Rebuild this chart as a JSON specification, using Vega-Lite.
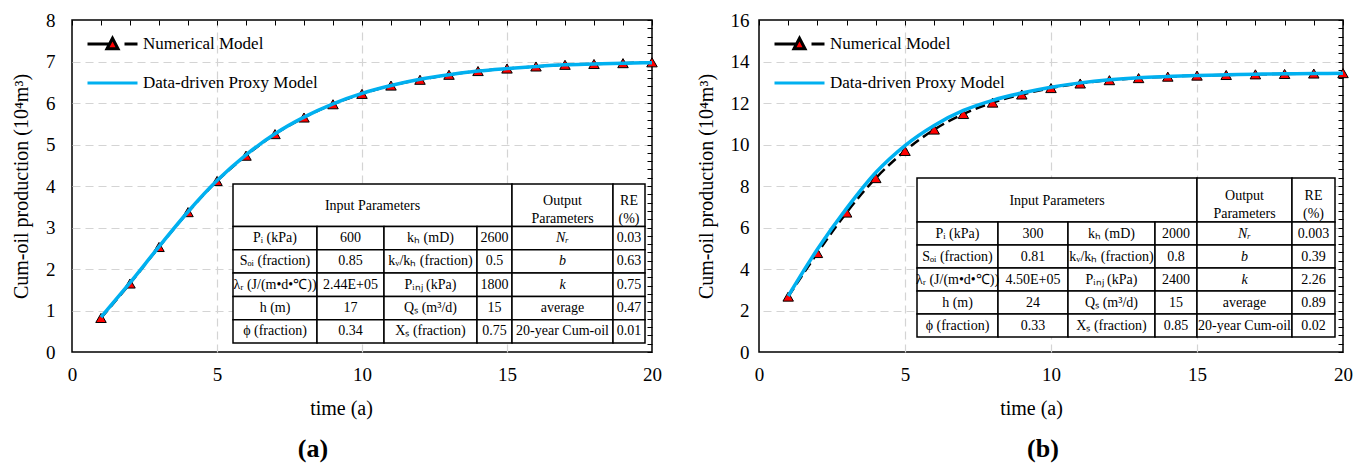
{
  "$schema": "https://vega.github.io/schema/vega-lite/v6.json",
  "background": "white",
  "padding": {"left": 10, "top": 10, "right": 4, "bottom": 2},
  "config": {
    "font": "Liberation Serif",
    "view": {"stroke": "black", "strokeWidth": 1.5},
    "axis": {"labelFont": "Liberation Serif", "labelFontSize": 19, "labelColor": "black", "titleFont": "Liberation Serif", "titleFontSize": 20, "titleFontWeight": "normal", "titleColor": "black"},
    "legend": {"labelFont": "Liberation Serif", "titleFont": "Liberation Serif"},
    "title": {"font": "Liberation Serif"},
    "text": {"font": "Liberation Serif"}
  },
  "datasets": {
    "curves": [
      {"panel": "a", "t": 1, "numerical": 0.82, "proxy": 0.84},
      {"panel": "a", "t": 2, "numerical": 1.65, "proxy": 1.67},
      {"panel": "a", "t": 3, "numerical": 2.53, "proxy": 2.54},
      {"panel": "a", "t": 4, "numerical": 3.37, "proxy": 3.38},
      {"panel": "a", "t": 5, "numerical": 4.12, "proxy": 4.13},
      {"panel": "a", "t": 6, "numerical": 4.73, "proxy": 4.75},
      {"panel": "a", "t": 7, "numerical": 5.25, "proxy": 5.26},
      {"panel": "a", "t": 8, "numerical": 5.65, "proxy": 5.66},
      {"panel": "a", "t": 9, "numerical": 5.97, "proxy": 5.98},
      {"panel": "a", "t": 10, "numerical": 6.22, "proxy": 6.23},
      {"panel": "a", "t": 11, "numerical": 6.42, "proxy": 6.42},
      {"panel": "a", "t": 12, "numerical": 6.56, "proxy": 6.57},
      {"panel": "a", "t": 13, "numerical": 6.68, "proxy": 6.68},
      {"panel": "a", "t": 14, "numerical": 6.77, "proxy": 6.77},
      {"panel": "a", "t": 15, "numerical": 6.83, "proxy": 6.83},
      {"panel": "a", "t": 16, "numerical": 6.88, "proxy": 6.88},
      {"panel": "a", "t": 17, "numerical": 6.92, "proxy": 6.92},
      {"panel": "a", "t": 18, "numerical": 6.94, "proxy": 6.94},
      {"panel": "a", "t": 19, "numerical": 6.96, "proxy": 6.96},
      {"panel": "a", "t": 20, "numerical": 6.98, "proxy": 6.97},
      {"panel": "b", "t": 1, "numerical": 2.67, "proxy": 2.7},
      {"panel": "b", "t": 2, "numerical": 4.77, "proxy": 4.95},
      {"panel": "b", "t": 3, "numerical": 6.72, "proxy": 6.92},
      {"panel": "b", "t": 4, "numerical": 8.38, "proxy": 8.65},
      {"panel": "b", "t": 5, "numerical": 9.69, "proxy": 9.95},
      {"panel": "b", "t": 6, "numerical": 10.72, "proxy": 10.92},
      {"panel": "b", "t": 7, "numerical": 11.47, "proxy": 11.64},
      {"panel": "b", "t": 8, "numerical": 12.02, "proxy": 12.13},
      {"panel": "b", "t": 9, "numerical": 12.41, "proxy": 12.48},
      {"panel": "b", "t": 10, "numerical": 12.72, "proxy": 12.76},
      {"panel": "b", "t": 11, "numerical": 12.94, "proxy": 12.97},
      {"panel": "b", "t": 12, "numerical": 13.1, "proxy": 13.12},
      {"panel": "b", "t": 13, "numerical": 13.2, "proxy": 13.22},
      {"panel": "b", "t": 14, "numerical": 13.27, "proxy": 13.28},
      {"panel": "b", "t": 15, "numerical": 13.32, "proxy": 13.33},
      {"panel": "b", "t": 16, "numerical": 13.35, "proxy": 13.36},
      {"panel": "b", "t": 17, "numerical": 13.38, "proxy": 13.39},
      {"panel": "b", "t": 18, "numerical": 13.4, "proxy": 13.41},
      {"panel": "b", "t": 19, "numerical": 13.42, "proxy": 13.42},
      {"panel": "b", "t": 20, "numerical": 13.44, "proxy": 13.43}
    ],
    "table": [
      {"panel": "a", "r0": 0, "r1": 1, "c0": 0, "c1": 4, "text": "Input Parameters"},
      {"panel": "a", "r0": 0, "r1": 1, "c0": 4, "c1": 5, "text": "Output\nParameters"},
      {"panel": "a", "r0": 0, "r1": 1, "c0": 5, "c1": 6, "text": "RE\n(%)"},
      {"panel": "a", "r0": 1, "r1": 2, "c0": 0, "c1": 1, "text": "Pᵢ (kPa)"},
      {"panel": "a", "r0": 1, "r1": 2, "c0": 1, "c1": 2, "text": "600"},
      {"panel": "a", "r0": 1, "r1": 2, "c0": 2, "c1": 3, "text": "kₕ (mD)"},
      {"panel": "a", "r0": 1, "r1": 2, "c0": 3, "c1": 4, "text": "2600"},
      {"panel": "a", "r0": 1, "r1": 2, "c0": 4, "c1": 5, "text": "Nᵣ"},
      {"panel": "a", "r0": 1, "r1": 2, "c0": 5, "c1": 6, "text": "0.03"},
      {"panel": "a", "r0": 2, "r1": 3, "c0": 0, "c1": 1, "text": "Sₒᵢ (fraction)"},
      {"panel": "a", "r0": 2, "r1": 3, "c0": 1, "c1": 2, "text": "0.85"},
      {"panel": "a", "r0": 2, "r1": 3, "c0": 2, "c1": 3, "text": "kᵥ/kₕ (fraction)"},
      {"panel": "a", "r0": 2, "r1": 3, "c0": 3, "c1": 4, "text": "0.5"},
      {"panel": "a", "r0": 2, "r1": 3, "c0": 4, "c1": 5, "text": "b"},
      {"panel": "a", "r0": 2, "r1": 3, "c0": 5, "c1": 6, "text": "0.63"},
      {"panel": "a", "r0": 3, "r1": 4, "c0": 0, "c1": 1, "text": "λᵣ (J/(m•d•℃))"},
      {"panel": "a", "r0": 3, "r1": 4, "c0": 1, "c1": 2, "text": "2.44E+05"},
      {"panel": "a", "r0": 3, "r1": 4, "c0": 2, "c1": 3, "text": "Pᵢₙⱼ (kPa)"},
      {"panel": "a", "r0": 3, "r1": 4, "c0": 3, "c1": 4, "text": "1800"},
      {"panel": "a", "r0": 3, "r1": 4, "c0": 4, "c1": 5, "text": "k"},
      {"panel": "a", "r0": 3, "r1": 4, "c0": 5, "c1": 6, "text": "0.75"},
      {"panel": "a", "r0": 4, "r1": 5, "c0": 0, "c1": 1, "text": "h (m)"},
      {"panel": "a", "r0": 4, "r1": 5, "c0": 1, "c1": 2, "text": "17"},
      {"panel": "a", "r0": 4, "r1": 5, "c0": 2, "c1": 3, "text": "Qₛ (m³/d)"},
      {"panel": "a", "r0": 4, "r1": 5, "c0": 3, "c1": 4, "text": "15"},
      {"panel": "a", "r0": 4, "r1": 5, "c0": 4, "c1": 5, "text": "average"},
      {"panel": "a", "r0": 4, "r1": 5, "c0": 5, "c1": 6, "text": "0.47"},
      {"panel": "a", "r0": 5, "r1": 6, "c0": 0, "c1": 1, "text": "ϕ (fraction)"},
      {"panel": "a", "r0": 5, "r1": 6, "c0": 1, "c1": 2, "text": "0.34"},
      {"panel": "a", "r0": 5, "r1": 6, "c0": 2, "c1": 3, "text": "Xₛ (fraction)"},
      {"panel": "a", "r0": 5, "r1": 6, "c0": 3, "c1": 4, "text": "0.75"},
      {"panel": "a", "r0": 5, "r1": 6, "c0": 4, "c1": 5, "text": "20-year Cum-oil"},
      {"panel": "a", "r0": 5, "r1": 6, "c0": 5, "c1": 6, "text": "0.01"},
      {"panel": "b", "r0": 0, "r1": 1, "c0": 0, "c1": 4, "text": "Input Parameters"},
      {"panel": "b", "r0": 0, "r1": 1, "c0": 4, "c1": 5, "text": "Output\nParameters"},
      {"panel": "b", "r0": 0, "r1": 1, "c0": 5, "c1": 6, "text": "RE\n(%)"},
      {"panel": "b", "r0": 1, "r1": 2, "c0": 0, "c1": 1, "text": "Pᵢ (kPa)"},
      {"panel": "b", "r0": 1, "r1": 2, "c0": 1, "c1": 2, "text": "300"},
      {"panel": "b", "r0": 1, "r1": 2, "c0": 2, "c1": 3, "text": "kₕ (mD)"},
      {"panel": "b", "r0": 1, "r1": 2, "c0": 3, "c1": 4, "text": "2000"},
      {"panel": "b", "r0": 1, "r1": 2, "c0": 4, "c1": 5, "text": "Nᵣ"},
      {"panel": "b", "r0": 1, "r1": 2, "c0": 5, "c1": 6, "text": "0.003"},
      {"panel": "b", "r0": 2, "r1": 3, "c0": 0, "c1": 1, "text": "Sₒᵢ (fraction)"},
      {"panel": "b", "r0": 2, "r1": 3, "c0": 1, "c1": 2, "text": "0.81"},
      {"panel": "b", "r0": 2, "r1": 3, "c0": 2, "c1": 3, "text": "kᵥ/kₕ (fraction)"},
      {"panel": "b", "r0": 2, "r1": 3, "c0": 3, "c1": 4, "text": "0.8"},
      {"panel": "b", "r0": 2, "r1": 3, "c0": 4, "c1": 5, "text": "b"},
      {"panel": "b", "r0": 2, "r1": 3, "c0": 5, "c1": 6, "text": "0.39"},
      {"panel": "b", "r0": 3, "r1": 4, "c0": 0, "c1": 1, "text": "λᵣ (J/(m•d•℃))"},
      {"panel": "b", "r0": 3, "r1": 4, "c0": 1, "c1": 2, "text": "4.50E+05"},
      {"panel": "b", "r0": 3, "r1": 4, "c0": 2, "c1": 3, "text": "Pᵢₙⱼ (kPa)"},
      {"panel": "b", "r0": 3, "r1": 4, "c0": 3, "c1": 4, "text": "2400"},
      {"panel": "b", "r0": 3, "r1": 4, "c0": 4, "c1": 5, "text": "k"},
      {"panel": "b", "r0": 3, "r1": 4, "c0": 5, "c1": 6, "text": "2.26"},
      {"panel": "b", "r0": 4, "r1": 5, "c0": 0, "c1": 1, "text": "h (m)"},
      {"panel": "b", "r0": 4, "r1": 5, "c0": 1, "c1": 2, "text": "24"},
      {"panel": "b", "r0": 4, "r1": 5, "c0": 2, "c1": 3, "text": "Qₛ (m³/d)"},
      {"panel": "b", "r0": 4, "r1": 5, "c0": 3, "c1": 4, "text": "15"},
      {"panel": "b", "r0": 4, "r1": 5, "c0": 4, "c1": 5, "text": "average"},
      {"panel": "b", "r0": 4, "r1": 5, "c0": 5, "c1": 6, "text": "0.89"},
      {"panel": "b", "r0": 5, "r1": 6, "c0": 0, "c1": 1, "text": "ϕ (fraction)"},
      {"panel": "b", "r0": 5, "r1": 6, "c0": 1, "c1": 2, "text": "0.33"},
      {"panel": "b", "r0": 5, "r1": 6, "c0": 2, "c1": 3, "text": "Xₛ (fraction)"},
      {"panel": "b", "r0": 5, "r1": 6, "c0": 3, "c1": 4, "text": "0.85"},
      {"panel": "b", "r0": 5, "r1": 6, "c0": 4, "c1": 5, "text": "20-year Cum-oil"},
      {"panel": "b", "r0": 5, "r1": 6, "c0": 5, "c1": 6, "text": "0.02"}
    ]
  },
  "spacing": 32,
  "resolve": {"scale": {"color": "independent"}, "legend": {"color": "independent"}},
  "hconcat": [
    {
      "width": 580,
      "height": 332,
      "title": {"text": "(a)", "orient": "bottom", "anchor": "middle", "font": "Liberation Serif", "fontSize": 26, "fontWeight": "bold", "color": "black", "offset": 18, "dx": -49},
      "resolve": {"scale": {"x": "independent", "y": "independent"}, "axis": {"x": "independent", "y": "independent"}},
      "layer": [
        {
          "data": {"name": "curves"},
          "transform": [{"filter": "datum.panel == 'a'"}],
          "mark": {"type": "line", "strokeWidth": 2.5, "strokeDash": [10, 5], "interpolate": "monotone"},
          "encoding": {
            "x": {"field": "t", "type": "quantitative", "scale": {"domain": [0, 20], "nice": false, "zero": false},
                  "axis": {"values": [0, 5, 10, 15, 20], "grid": false, "ticks": false, "domain": false, "labelPadding": 13, "labelFlush": false, "title": "time (a)", "titlePadding": 14, "titleX": 269}},
            "y": {"field": "numerical", "type": "quantitative", "scale": {"domain": [0, 8], "nice": false},
                  "axis": {"values": [0, 1, 2, 3, 4, 5, 6, 7, 8], "grid": false, "ticks": false, "domain": false, "labelPadding": 17, "labelFlush": false, "title": "Cum-oil production (10⁴m³)", "titlePadding": 14}},
            "color": {"datum": "Numerical Model", "type": "nominal",
                      "scale": {"domain": ["Numerical Model", "Data-driven Proxy Model"], "range": ["black", "#00B0F0"]},
                      "legend": {"orient": "top-left", "offset": 14, "padding": 0, "title": null, "symbolSize": 2500, "symbolType": "stroke", "symbolStrokeWidth": 3, "clipHeight": 20,
                                 "labelFont": "Liberation Serif", "labelFontSize": 17, "labelColor": "black", "labelOffset": 4, "labelLimit": 400, "rowPadding": 19,
                                 "encode": {"symbols": {"update": {
                                   "shape": {"signal": "datum.value === 'Numerical Model' ? 'M-1,0H-0.12M0.48,0H1M-0.22,0.19L0,-0.23L0.22,0.19Z' : 'M-1,0H1'"},
                                   "fill": {"signal": "datum.value === 'Numerical Model' ? '#ff0000' : 'transparent'"},
                                   "stroke": {"signal": "datum.value === 'Numerical Model' ? 'black' : '#00B0F0'"},
                                   "opacity": {"value": 1}
                                 }}}}}
          }
        },
        {
          "data": {"name": "curves"},
          "transform": [{"filter": "datum.panel == 'a'"}],
          "mark": {"type": "point", "shape": "triangle-up", "filled": true, "fill": "#ff0000", "stroke": "black", "strokeWidth": 1, "size": 110, "opacity": 1},
          "encoding": {
            "x": {"field": "t", "type": "quantitative", "scale": {"domain": [0, 20], "nice": false, "zero": false},
                  "axis": {"values": [0,1,2,3,4,5,6,7,8,9,10,11,12,13,14,15,16,17,18,19,20], "labels": false, "ticks": true, "tickSize": -5, "tickColor": "black", "tickWidth": 1, "domain": false, "grid": false, "title": null}},
            "y": {"field": "numerical", "type": "quantitative", "scale": {"domain": [0, 8], "nice": false},
                  "axis": {"values": [0,0.2,0.4,0.6,0.8,1,1.2,1.4,1.6,1.8,2,2.2,2.4,2.6,2.8,3,3.2,3.4,3.6,3.8,4,4.2,4.4,4.6,4.8,5,5.2,5.4,5.6,5.8,6,6.2,6.4,6.6,6.8,7,7.2,7.4,7.6,7.8,8], "labels": false, "ticks": true, "tickSize": -5, "tickColor": "black", "tickWidth": 1, "domain": false, "grid": false, "title": null}}
          }
        },
        {
          "data": {"name": "curves"},
          "transform": [{"filter": "datum.panel == 'a'"}],
          "mark": {"type": "line", "strokeWidth": 3.5, "interpolate": "monotone"},
          "encoding": {
            "x": {"field": "t", "type": "quantitative", "scale": {"domain": [0, 20], "nice": false, "zero": false},
                  "axis": {"values": [5, 10, 15], "grid": true, "gridColor": "#d4d4d4", "gridDash": [8, 5], "gridWidth": 1.2, "ticks": false, "labels": false, "domain": false, "title": null}},
            "y": {"field": "proxy", "type": "quantitative", "scale": {"domain": [0, 8], "nice": false},
                  "axis": {"values": [1, 2, 3, 4, 5, 6, 7], "grid": true, "gridColor": "#d4d4d4", "gridDash": [8, 5], "gridWidth": 1.2, "ticks": false, "labels": false, "domain": false, "title": null}},
            "color": {"datum": "Data-driven Proxy Model", "type": "nominal"}
          }
        },
        {
          "data": {"name": "table"},
          "transform": [{"filter": "datum.panel == 'a'"}],
          "mark": {"type": "rect", "fill": "white", "stroke": "black", "strokeWidth": 1.5},
          "encoding": {
            "x": {"field": "c0", "type": "quantitative", "scale": {"domain": [0, 1, 2, 3, 4, 5, 6], "range": [161, 245, 312, 405, 440, 541, 573], "nice": false, "zero": false}, "axis": null},
            "x2": {"field": "c1"},
            "y": {"field": "r0", "type": "quantitative", "scale": {"domain": [0, 1, 2, 3, 4, 5, 6], "range": [164, 206.5, 229.8, 253.1, 276.4, 299.7, 323], "nice": false, "zero": false}, "axis": null},
            "y2": {"field": "r1"}
          }
        },
        {
          "data": {"name": "table"},
          "transform": [{"filter": "datum.panel == 'a' && datum.r0 == 0 && indexof(datum.text, '\\n') < 0"}],
          "mark": {"type": "text", "font": "Liberation Serif", "fontSize": 14, "align": "center", "baseline": "middle", "color": "black", "dy": 1},
          "encoding": {
            "x": {"field": "c0", "type": "quantitative", "scale": {"domain": [0, 4, 5], "range": [300.5, 490.5, 557], "nice": false, "zero": false}, "axis": null},
            "y": {"field": "r0", "type": "quantitative", "scale": {"domain": [0, 1], "range": [185.25, 218.15], "nice": false, "zero": false}, "axis": null},
            "text": {"field": "text"}
          }
        },
        {
          "data": {"name": "table"},
          "transform": [{"filter": "datum.panel == 'a' && datum.r0 == 0 && indexof(datum.text, '\\n') >= 0"}],
          "mark": {"type": "text", "font": "Liberation Serif", "fontSize": 14, "align": "center", "baseline": "middle", "lineBreak": "\n", "lineHeight": 18, "color": "black", "dy": -4},
          "encoding": {
            "x": {"field": "c0", "type": "quantitative", "scale": {"domain": [0, 4, 5], "range": [300.5, 490.5, 557], "nice": false, "zero": false}, "axis": null},
            "y": {"field": "r0", "type": "quantitative", "scale": {"domain": [0, 1], "range": [185.25, 218.15], "nice": false, "zero": false}, "axis": null},
            "text": {"field": "text"}
          }
        },
        {
          "data": {"name": "table"},
          "transform": [{"filter": "datum.panel == 'a' && datum.r0 > 0 && indexof(['b', 'k', 'Nᵣ'], datum.text) < 0"}],
          "mark": {"type": "text", "font": "Liberation Serif", "fontSize": 14, "align": "center", "baseline": "middle", "color": "black"},
          "encoding": {
            "x": {"field": "c0", "type": "quantitative", "scale": {"domain": [0, 1, 2, 3, 4, 5], "range": [203, 278.5, 358.5, 422.5, 490.5, 557], "nice": false, "zero": false}, "axis": null},
            "y": {"field": "r0", "type": "quantitative", "scale": {"domain": [1, 2, 3, 4, 5], "range": [218.15, 241.45, 264.75, 288.05, 311.35], "nice": false, "zero": false}, "axis": null},
            "text": {"field": "text"}
          }
        },
        {
          "data": {"name": "table"},
          "transform": [{"filter": "datum.panel == 'a' && datum.r0 > 0 && indexof(['b', 'k', 'Nᵣ'], datum.text) >= 0"}],
          "mark": {"type": "text", "font": "Liberation Serif", "fontSize": 14, "fontStyle": "italic", "align": "center", "baseline": "middle", "color": "black"},
          "encoding": {
            "x": {"field": "c0", "type": "quantitative", "scale": {"domain": [0, 1, 2, 3, 4, 5], "range": [203, 278.5, 358.5, 422.5, 490.5, 557], "nice": false, "zero": false}, "axis": null},
            "y": {"field": "r0", "type": "quantitative", "scale": {"domain": [1, 2, 3, 4, 5], "range": [218.15, 241.45, 264.75, 288.05, 311.35], "nice": false, "zero": false}, "axis": null},
            "text": {"field": "text"}
          }
        }
      ]
    },
    {
      "width": 584,
      "height": 332,
      "title": {"text": "(b)", "orient": "bottom", "anchor": "middle", "font": "Liberation Serif", "fontSize": 26, "fontWeight": "bold", "color": "black", "offset": 18, "dx": -8},
      "resolve": {"scale": {"x": "independent", "y": "independent"}, "axis": {"x": "independent", "y": "independent"}},
      "layer": [
        {
          "data": {"name": "curves"},
          "transform": [{"filter": "datum.panel == 'b'"}],
          "mark": {"type": "line", "strokeWidth": 2.5, "strokeDash": [10, 5], "interpolate": "monotone"},
          "encoding": {
            "x": {"field": "t", "type": "quantitative", "scale": {"domain": [0, 20], "nice": false, "zero": false},
                  "axis": {"values": [0, 5, 10, 15, 20], "grid": false, "ticks": false, "domain": false, "labelPadding": 13, "labelFlush": false, "title": "time (a)", "titlePadding": 14, "titleX": 272}},
            "y": {"field": "numerical", "type": "quantitative", "scale": {"domain": [0, 16], "nice": false},
                  "axis": {"values": [0, 2, 4, 6, 8, 10, 12, 14, 16], "grid": false, "ticks": false, "domain": false, "labelPadding": 10, "labelFlush": false, "title": "Cum-oil production (10⁴m³)", "titlePadding": 14}},
            "color": {"datum": "Numerical Model", "type": "nominal",
                      "scale": {"domain": ["Numerical Model", "Data-driven Proxy Model"], "range": ["black", "#00B0F0"]},
                      "legend": {"orient": "top-left", "offset": 14, "padding": 0, "title": null, "symbolSize": 2500, "symbolType": "stroke", "symbolStrokeWidth": 3, "clipHeight": 20,
                                 "labelFont": "Liberation Serif", "labelFontSize": 17, "labelColor": "black", "labelOffset": 4, "labelLimit": 400, "rowPadding": 19,
                                 "encode": {"symbols": {"update": {
                                   "shape": {"signal": "datum.value === 'Numerical Model' ? 'M-1,0H-0.12M0.48,0H1M-0.22,0.19L0,-0.23L0.22,0.19Z' : 'M-1,0H1'"},
                                   "fill": {"signal": "datum.value === 'Numerical Model' ? '#ff0000' : 'transparent'"},
                                   "stroke": {"signal": "datum.value === 'Numerical Model' ? 'black' : '#00B0F0'"},
                                   "opacity": {"value": 1}
                                 }}}}}
          }
        },
        {
          "data": {"name": "curves"},
          "transform": [{"filter": "datum.panel == 'b'"}],
          "mark": {"type": "point", "shape": "triangle-up", "filled": true, "fill": "#ff0000", "stroke": "black", "strokeWidth": 1, "size": 110, "opacity": 1},
          "encoding": {
            "x": {"field": "t", "type": "quantitative", "scale": {"domain": [0, 20], "nice": false, "zero": false},
                  "axis": {"values": [0,1,2,3,4,5,6,7,8,9,10,11,12,13,14,15,16,17,18,19,20], "labels": false, "ticks": true, "tickSize": -5, "tickColor": "black", "tickWidth": 1, "domain": false, "grid": false, "title": null}},
            "y": {"field": "numerical", "type": "quantitative", "scale": {"domain": [0, 16], "nice": false},
                  "axis": {"values": [0,0.4,0.8,1.2,1.6,2,2.4,2.8,3.2,3.6,4,4.4,4.8,5.2,5.6,6,6.4,6.8,7.2,7.6,8,8.4,8.8,9.2,9.6,10,10.4,10.8,11.2,11.6,12,12.4,12.8,13.2,13.6,14,14.4,14.8,15.2,15.6,16], "labels": false, "ticks": true, "tickSize": -5, "tickColor": "black", "tickWidth": 1, "domain": false, "grid": false, "title": null}}
          }
        },
        {
          "data": {"name": "curves"},
          "transform": [{"filter": "datum.panel == 'b'"}],
          "mark": {"type": "line", "strokeWidth": 3.5, "interpolate": "monotone"},
          "encoding": {
            "x": {"field": "t", "type": "quantitative", "scale": {"domain": [0, 20], "nice": false, "zero": false},
                  "axis": {"values": [5, 10, 15], "grid": true, "gridColor": "#d4d4d4", "gridDash": [8, 5], "gridWidth": 1.2, "ticks": false, "labels": false, "domain": false, "title": null}},
            "y": {"field": "proxy", "type": "quantitative", "scale": {"domain": [0, 16], "nice": false},
                  "axis": {"values": [2, 4, 6, 8, 10, 12, 14], "grid": true, "gridColor": "#d4d4d4", "gridDash": [8, 5], "gridWidth": 1.2, "ticks": false, "labels": false, "domain": false, "title": null}},
            "color": {"datum": "Data-driven Proxy Model", "type": "nominal"}
          }
        },
        {
          "data": {"name": "table"},
          "transform": [{"filter": "datum.panel == 'b'"}],
          "mark": {"type": "rect", "fill": "white", "stroke": "black", "strokeWidth": 1.5},
          "encoding": {
            "x": {"field": "c0", "type": "quantitative", "scale": {"domain": [0, 1, 2, 3, 4, 5, 6], "range": [158, 239, 309, 396, 438, 533, 576], "nice": false, "zero": false}, "axis": null},
            "x2": {"field": "c1"},
            "y": {"field": "r0", "type": "quantitative", "scale": {"domain": [0, 1, 2, 3, 4, 5, 6], "range": [158, 202, 225, 248, 271, 294, 317], "nice": false, "zero": false}, "axis": null},
            "y2": {"field": "r1"}
          }
        },
        {
          "data": {"name": "table"},
          "transform": [{"filter": "datum.panel == 'b' && datum.r0 == 0 && indexof(datum.text, '\\n') < 0"}],
          "mark": {"type": "text", "font": "Liberation Serif", "fontSize": 14, "align": "center", "baseline": "middle", "color": "black", "dy": 1},
          "encoding": {
            "x": {"field": "c0", "type": "quantitative", "scale": {"domain": [0, 4, 5], "range": [298, 485.5, 554.5], "nice": false, "zero": false}, "axis": null},
            "y": {"field": "r0", "type": "quantitative", "scale": {"domain": [0, 1], "range": [180, 213.5], "nice": false, "zero": false}, "axis": null},
            "text": {"field": "text"}
          }
        },
        {
          "data": {"name": "table"},
          "transform": [{"filter": "datum.panel == 'b' && datum.r0 == 0 && indexof(datum.text, '\\n') >= 0"}],
          "mark": {"type": "text", "font": "Liberation Serif", "fontSize": 14, "align": "center", "baseline": "middle", "lineBreak": "\n", "lineHeight": 18, "color": "black", "dy": -4},
          "encoding": {
            "x": {"field": "c0", "type": "quantitative", "scale": {"domain": [0, 4, 5], "range": [298, 485.5, 554.5], "nice": false, "zero": false}, "axis": null},
            "y": {"field": "r0", "type": "quantitative", "scale": {"domain": [0, 1], "range": [180, 213.5], "nice": false, "zero": false}, "axis": null},
            "text": {"field": "text"}
          }
        },
        {
          "data": {"name": "table"},
          "transform": [{"filter": "datum.panel == 'b' && datum.r0 > 0 && indexof(['b', 'k', 'Nᵣ'], datum.text) < 0"}],
          "mark": {"type": "text", "font": "Liberation Serif", "fontSize": 14, "align": "center", "baseline": "middle", "color": "black"},
          "encoding": {
            "x": {"field": "c0", "type": "quantitative", "scale": {"domain": [0, 1, 2, 3, 4, 5], "range": [198.5, 274, 352.5, 417, 485.5, 554.5], "nice": false, "zero": false}, "axis": null},
            "y": {"field": "r0", "type": "quantitative", "scale": {"domain": [1, 2, 3, 4, 5], "range": [213.5, 236.5, 259.5, 282.5, 305.5], "nice": false, "zero": false}, "axis": null},
            "text": {"field": "text"}
          }
        },
        {
          "data": {"name": "table"},
          "transform": [{"filter": "datum.panel == 'b' && datum.r0 > 0 && indexof(['b', 'k', 'Nᵣ'], datum.text) >= 0"}],
          "mark": {"type": "text", "font": "Liberation Serif", "fontSize": 14, "fontStyle": "italic", "align": "center", "baseline": "middle", "color": "black"},
          "encoding": {
            "x": {"field": "c0", "type": "quantitative", "scale": {"domain": [0, 1, 2, 3, 4, 5], "range": [198.5, 274, 352.5, 417, 485.5, 554.5], "nice": false, "zero": false}, "axis": null},
            "y": {"field": "r0", "type": "quantitative", "scale": {"domain": [1, 2, 3, 4, 5], "range": [213.5, 236.5, 259.5, 282.5, 305.5], "nice": false, "zero": false}, "axis": null},
            "text": {"field": "text"}
          }
        }
      ]
    }
  ]
}
